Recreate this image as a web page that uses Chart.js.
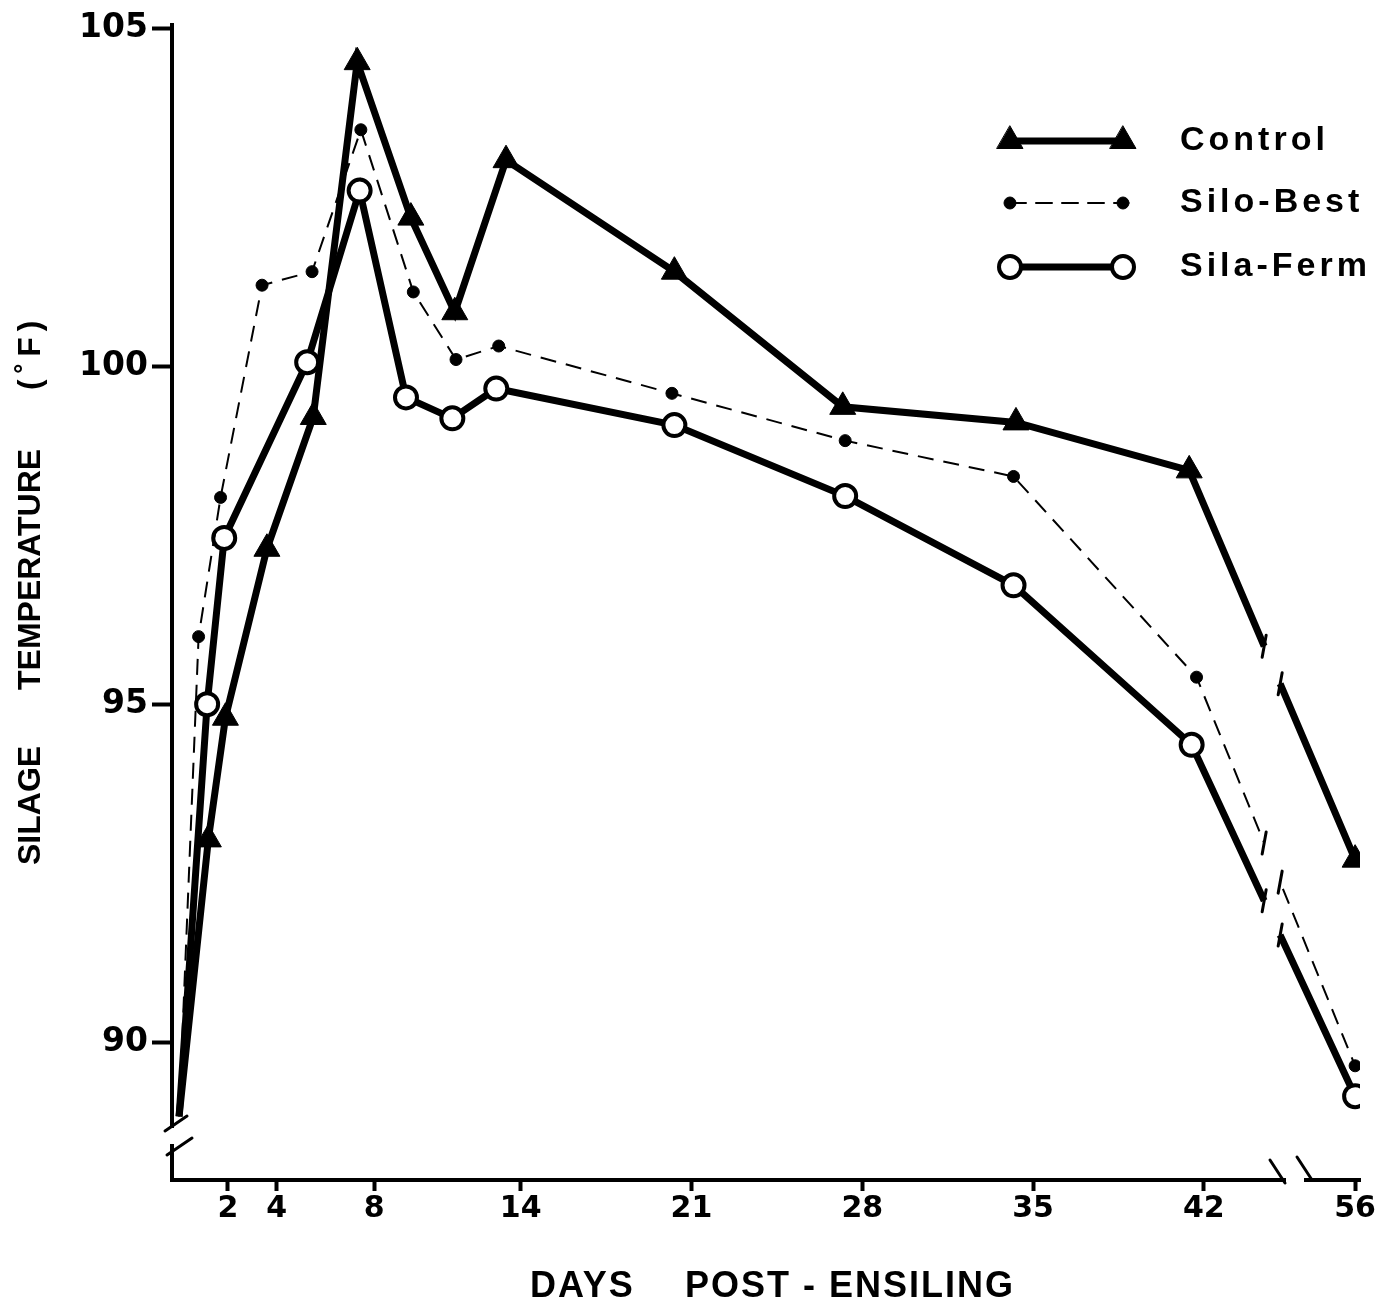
<!DOCTYPE html>
<html>
<head>
<meta charset="utf-8">
<title>Silage temperature</title>
<script src="https://cdn.jsdelivr.net/npm/chart.js@4/dist/chart.umd.min.js"></script>
<style>
  html, body { margin: 0; padding: 0; background: #fff; }
  #wrap { width: 1389px; height: 1315px; position: relative; }
</style>
</head>
<body>
<div id="wrap"><canvas id="tempChart"></canvas></div>
<script>
// ---------------------------------------
// DATA
// ---------------------------------------
const controlDays  = [0, 1.2, 1.9, 3.6, 5.5, 7.3, 9.5, 11.3, 13.4, 20.3, 27.2, 34.3, 41.4, 56];
const controlTemp  = [88.9, 93.0, 94.8, 97.3, 99.25, 104.5, 102.2, 100.8, 103.05, 101.4, 99.4, 99.17, 98.46, 92.7];

const siloBestDays = [0, 0.8, 1.7, 3.4, 5.45, 7.45, 9.6, 11.35, 13.1, 20.2, 27.3, 34.2, 41.7, 56];
const siloBestTemp = [88.9, 96.0, 98.06, 101.2, 101.4, 103.5, 101.1, 100.1, 100.3, 99.6, 98.9, 98.37, 95.4, 89.65];

const silaFermDays = [0, 1.15, 1.85, 5.25, 7.4, 9.3, 11.2, 13.0, 20.3, 27.3, 34.2, 41.5, 56];
const silaFermTemp = [88.9, 95.0, 97.46, 100.06, 102.6, 99.54, 99.23, 99.67, 99.13, 98.08, 96.76, 94.4, 89.2];

const dayTicks  = [2, 4, 8, 14, 21, 28, 35, 42, 56];
const tempTicks = [90, 95, 100, 105];

// x axis is broken between 42 and 56: compress days beyond 44
function axisPos(d) {
    return d <= 44 ? d : 44 + (d - 44) * 0.35;
}

function toPoints(days, temps) {
    return days.map((d, i) => ({ x: axisPos(d), y: temps[i] }));
}

// first point (day 0) has no marker
function radii(n, r) {
    return Array.from({ length: n }, (_, i) => (i === 0 ? 0 : r));
}

const FONT = "'Liberation Sans', Arial, Helvetica, sans-serif";
const NUMFONT = "'DejaVu Sans', Verdana, sans-serif";

// ---------------------------------------
// BREAK MARKS, TITLES, LEGEND
// ---------------------------------------
const extras = {
    id: "extras",
    afterDraw(chart) {
        const ctx = chart.ctx;
        const xs = chart.scales.x;
        const area = chart.chartArea;

        ctx.save();

        // --- gaps in the lines ---
        const bx = xs.getPixelForValue(44.8);
        chart.data.datasets.forEach((ds, i) => {
            const pts = chart.getDatasetMeta(i).data;
            const a = pts[pts.length - 2], b = pts[pts.length - 1];
            const yAt = x => a.y + (b.y - a.y) * (x - a.x) / (b.x - a.x);
            const g = 8;
            ctx.strokeStyle = "#fff";
            ctx.lineWidth = ds.borderWidth + 6;
            ctx.lineCap = "butt";
            ctx.beginPath();
            ctx.moveTo(bx - g, yAt(bx - g));
            ctx.lineTo(bx + g, yAt(bx + g));
            ctx.stroke();
            ctx.strokeStyle = "#000";
            ctx.lineWidth = 3;
            ctx.lineCap = "round";
            [bx - g, bx + g].forEach(x => {
                const y = yAt(x);
                ctx.beginPath();
                ctx.moveTo(x + 2, y - 11);
                ctx.lineTo(x - 2, y + 11);
                ctx.stroke();
            });
        });

        // --- y axis break ---
        ctx.fillStyle = "#fff";
        ctx.fillRect(area.left - 4, 1128, 10, 16);
        ctx.strokeStyle = "#000";
        ctx.lineWidth = 3;
        ctx.beginPath();
        ctx.moveTo(area.left - 7, 1131);
        ctx.lineTo(area.left + 15, 1116);
        ctx.moveTo(area.left - 5, 1155);
        ctx.lineTo(area.left + 20, 1138);
        ctx.stroke();

        // --- x axis break ---
        ctx.fillRect(1286, area.bottom - 4, 18, 8);
        ctx.beginPath();
        ctx.moveTo(1270, area.bottom - 20);
        ctx.lineTo(1285, area.bottom + 3);
        ctx.moveTo(1297, area.bottom - 23);
        ctx.lineTo(1312, area.bottom);
        ctx.stroke();

        // --- axis titles ---
        ctx.fillStyle = "#000";
        ctx.textBaseline = "middle";
        ctx.textAlign = "left";
        ctx.font = "bold 36px " + FONT;
        ctx.letterSpacing = "2px";
        ctx.fillText("DAYS", 530, 1287);
        ctx.fillText("POST - ENSILING", 685, 1287);

        ctx.save();
        ctx.translate(31, 0);
        ctx.rotate(-Math.PI / 2);
        ctx.font = "bold 32px " + FONT;
        ctx.letterSpacing = "0px";
        ctx.fillText("SILAGE", -865, 0);
        ctx.fillText("TEMPERATURE", -690, 0);
        ctx.letterSpacing = "6px";
        ctx.fillText("(˚F)", -390, 0);
        ctx.restore();

        // --- legend ---
        const rows = [141, 203, 267];
        chart.data.datasets.forEach((ds, i) => {
            const y = rows[i];
            ctx.strokeStyle = "#000";
            ctx.lineWidth = ds.borderWidth;
            ctx.setLineDash(ds.borderDash || []);
            ctx.beginPath();
            ctx.moveTo(1010, y);
            ctx.lineTo(1123, y);
            ctx.stroke();
            ctx.setLineDash([]);
            [1010, 1123].forEach(x => {
                ctx.fillStyle = ds.pointBackgroundColor;
                ctx.strokeStyle = "#000";
                ctx.lineWidth = ds.pointBorderWidth;
                Chart.helpers.drawPoint(ctx, {
                    pointStyle: ds.pointStyle,
                    rotation: 0,
                    radius: ds.pointRadius[1],
                    borderWidth: ds.pointBorderWidth
                }, x, y);
            });
            ctx.fillStyle = "#000";
            ctx.font = "bold 34px " + FONT;
            ctx.letterSpacing = "4px";
            ctx.textBaseline = "middle";
            ctx.textAlign = "left";
            ctx.fillText(ds.label, 1180, y);
        });

        ctx.restore();
    }
};

// ---------------------------------------
// CHART
// ---------------------------------------
const tempChart = new Chart(
document.getElementById("tempChart"),
{
    type: "line",

    data: {
        datasets: [
            {
                label: "Control",
                data: toPoints(controlDays, controlTemp),
                borderColor: "#000",
                borderWidth: 7,
                pointStyle: "triangle",
                pointRadius: radii(controlDays.length, 15),
                pointBackgroundColor: "#000",
                pointBorderColor: "#000",
                pointBorderWidth: 1,
                tension: 0
            },
            {
                label: "Silo-Best",
                data: toPoints(siloBestDays, siloBestTemp),
                borderColor: "#000",
                borderWidth: 2,
                borderDash: [16, 10],
                pointStyle: "circle",
                pointRadius: radii(siloBestDays.length, 6),
                pointBackgroundColor: "#000",
                pointBorderColor: "#000",
                pointBorderWidth: 1,
                tension: 0
            },
            {
                label: "Sila-Ferm",
                data: toPoints(silaFermDays, silaFermTemp),
                borderColor: "#000",
                borderWidth: 7,
                pointStyle: "circle",
                pointRadius: radii(silaFermDays.length, 11),
                pointBackgroundColor: "#fff",
                pointBorderColor: "#000",
                pointBorderWidth: 4,
                tension: 0
            }
        ]
    },

    options: {
        responsive: true,
        maintainAspectRatio: false,
        animation: false,
        layout: {
            padding: { top: 25, right: 29, left: 0, bottom: 0 }
        },
        plugins: {
            legend: { display: false },
            tooltip: { enabled: false }
        },
        scales: {
            x: {
                type: "linear",
                min: -0.29,
                max: 48.4,
                afterFit: s => { s.height = 135; },
                afterBuildTicks: s => {
                    s.ticks = dayTicks.map(d => ({ value: axisPos(d) }));
                },
                grid: {
                    drawOnChartArea: false,
                    drawTicks: true,
                    tickLength: 11,
                    tickWidth: 4,
                    tickColor: "#000"
                },
                border: { display: true, color: "#000", width: 4 },
                ticks: {
                    color: "#000",
                    padding: 0,
                    maxRotation: 0,
                    autoSkip: false,
                    font: { family: NUMFONT, size: 30, weight: "bold" },
                    callback: (v, i) => String(dayTicks[i])
                }
            },
            y: {
                min: 87.96,
                max: 105.05,
                afterFit: s => { s.width = 172; },
                afterBuildTicks: s => {
                    s.ticks = tempTicks.map(v => ({ value: v }));
                },
                grid: {
                    drawOnChartArea: false,
                    drawTicks: true,
                    tickLength: 20,
                    tickWidth: 4,
                    tickColor: "#000"
                },
                border: { display: true, color: "#000", width: 4 },
                ticks: {
                    color: "#000",
                    padding: 4,
                    font: { family: NUMFONT, size: 33, weight: "bold" }
                }
            }
        }
    },

    plugins: [extras]
});
</script>
</body>
</html>
